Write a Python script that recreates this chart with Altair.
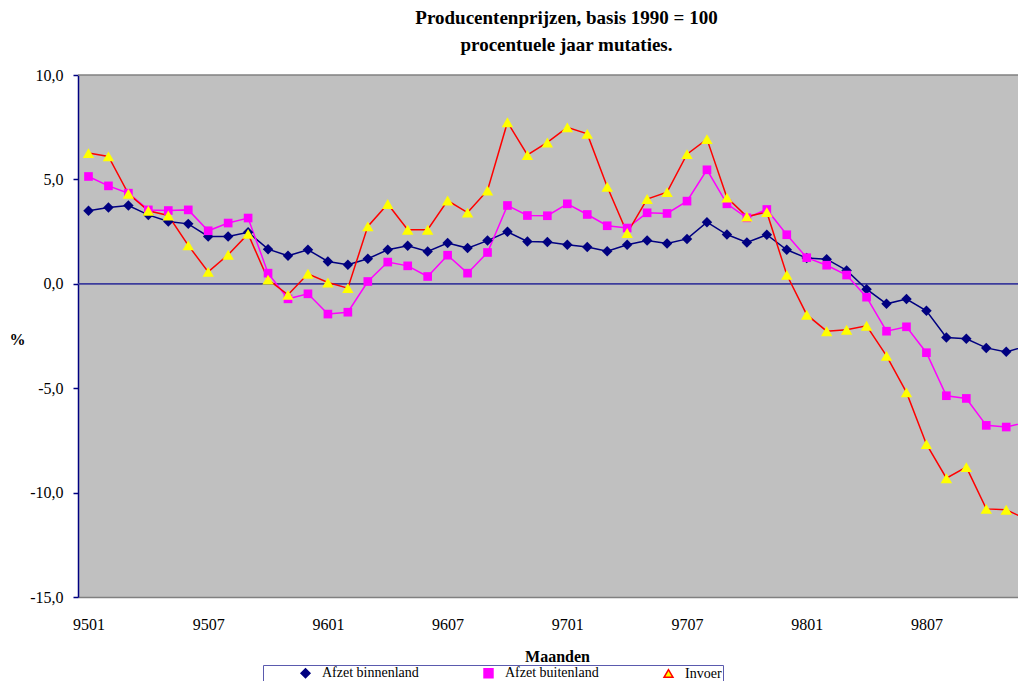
import altair as alt
import pandas as pd

months = ["9501", "9502", "9503", "9504", "9505", "9506", "9507", "9508", "9509", "9510", "9511", "9512",
          "9601", "9602", "9603", "9604", "9605", "9606", "9607", "9608", "9609", "9610", "9611", "9612",
          "9701", "9702", "9703", "9704", "9705", "9706", "9707", "9708", "9709", "9710", "9711", "9712",
          "9801", "9802", "9803", "9804", "9805", "9806", "9807", "9808", "9809", "9810", "9811", "9812"]
tick_labels = ["9501", "9507", "9601", "9607", "9701", "9707", "9801", "9807"]

binnenland = [3.5, 3.65, 3.75, 3.3, 2.98, 2.87, 2.27, 2.27, 2.47, 1.66, 1.34, 1.63,
              1.07, 0.91, 1.2, 1.63, 1.82, 1.55, 1.95, 1.71, 2.07, 2.49, 2.03, 2.0,
              1.87, 1.76, 1.56, 1.87, 2.07, 1.93, 2.15, 2.95, 2.36, 1.98, 2.35, 1.63,
              1.23, 1.18, 0.64, -0.26, -0.96, -0.73, -1.29, -2.57, -2.63, -3.07, -3.26, -2.99]
buitenland = [5.14, 4.69, 4.34, 3.54, 3.51, 3.54, 2.54, 2.91, 3.15, 0.51, -0.72, -0.48,
              -1.45, -1.36, 0.11, 1.04, 0.86, 0.35, 1.37, 0.51, 1.5, 3.75, 3.27, 3.26,
              3.83, 3.32, 2.78, 2.67, 3.4, 3.37, 3.96, 5.46, 3.83, 3.16, 3.56, 2.35,
              1.25, 0.89, 0.42, -0.64, -2.27, -2.06, -3.3, -5.36, -5.49, -6.78, -6.86, -6.64]
invoer = [6.26, 6.1, 4.31, 3.5, 3.27, 1.84, 0.57, 1.39, 2.39, 0.2, -0.53, 0.48,
          0.06, -0.21, 2.75, 3.82, 2.59, 2.59, 3.99, 3.41, 4.47, 7.74, 6.17, 6.77,
          7.49, 7.18, 4.65, 2.43, 4.06, 4.39, 6.21, 6.93, 4.13, 3.22, 3.43, 0.43,
          -1.48, -2.27, -2.2, -2.01, -3.45, -5.2, -7.68, -9.31, -8.78, -10.78, -10.82, -11.27]

series_names = ["Afzet binnenland", "Afzet buitenland", "Invoer"]
line_colors = ["#000080", "#FF00FF", "#FF0000"]
marker_fills = ["#000080", "#FF00FF", "#FFFF00"]
marker_shapes = ["diamond", "square", "triangle-up"]
marker_sizes = [110, 75, 130]

rows = []
for name, vals in zip(series_names, [binnenland, buitenland, invoer]):
    for i, (m, v) in enumerate(zip(months, vals)):
        rows.append({"serie": name, "idx": i, "maand": m, "waarde": v})
df = pd.DataFrame(rows)

tick_idx = [months.index(t) for t in tick_labels]
month_array = "[" + ",".join("'" + m + "'" for m in months) + "]"

FONT = "Liberation Serif"

x_enc = alt.X(
    "idx:Q",
    scale=alt.Scale(domain=[-0.526, 46.59], nice=False, zero=False),
    axis=alt.Axis(
        values=tick_idx,
        labelExpr=month_array + "[datum.value]",
        title="Maanden",
        ticks=False,
        grid=False,
        domainColor="#808080",
        domainWidth=1.5,
        labelFont=FONT,
        labelFontSize=16,
        labelColor="#000000",
        labelPadding=19,
        labelBaseline="top",
        titleFont=FONT,
        titleFontSize=16,
        titleFontWeight="bold",
        titleColor="#000000",
        titleX=479,
        titleY=64,
        titleBaseline="alphabetic",
    ),
)
y_enc = alt.Y(
    "waarde:Q",
    scale=alt.Scale(domain=[-15, 10], nice=False),
    axis=alt.Axis(
        values=[-15, -10, -5, 0, 5, 10],
        labelExpr="(datum.value < 0 ? '-' : '') + replace(format(abs(datum.value), '.1f'), '.', ',')",
        title="%",
        titleAngle=0,
        titleX=-61,
        titleY=264,
        titleAlign="center",
        titleBaseline="middle",
        titleFont=FONT,
        titleFontSize=16,
        titleFontWeight="bold",
        titleColor="#000000",
        grid=False,
        domainColor="#000080",
        domainWidth=1.5,
        tickColor="#000080",
        tickSize=5,
        tickWidth=1.5,
        labelFont=FONT,
        labelFontSize=16,
        labelColor="#000000",
        labelPadding=10,
    ),
)

legend = alt.Legend(
    title=None,
    orient="none",
    legendX=185,
    legendY=590,
    direction="horizontal",
    columns=3,
    fillColor="#FFFFFF",
    strokeColor="#5a5aae",
    padding=1,
    symbolOffset=34.5,
    labelOffset=9.5,
    columnPadding=28,
    symbolSize=80,
    symbolStrokeWidth=1.5,
    labelFont=FONT,
    labelFontSize=14,
    labelColor="#000000",
    labelExpr="datum.label == 'Invoer' ? 'Invoer       ' : datum.label",
)

zero_line = alt.Chart(pd.DataFrame({"waarde": [0]})).mark_rule(
    color="#3c3c9c", strokeWidth=1.7
).encode(y="waarde:Q")

top_border = alt.Chart(pd.DataFrame({"waarde": [10]})).mark_rule(
    color="#808080", strokeWidth=1.5
).encode(y="waarde:Q")

lines = alt.Chart(df).mark_line(strokeWidth=1.5, clip=True).encode(
    x=x_enc,
    y=y_enc,
    color=alt.Color("serie:N", scale=alt.Scale(domain=series_names, range=line_colors), legend=legend),
    order="idx:Q",
)

point_layers = []
for name, sz in zip(series_names, marker_sizes):
    point_layers.append(
        alt.Chart(df)
        .transform_filter(alt.datum.serie == name)
        .mark_point(filled=True, opacity=1, strokeWidth=0, size=sz, clip=True)
        .encode(
            x="idx:Q",
            y="waarde:Q",
            fill=alt.Fill("serie:N", scale=alt.Scale(domain=series_names, range=marker_fills), legend=legend),
            shape=alt.Shape("serie:N", scale=alt.Scale(domain=series_names, range=marker_shapes), legend=legend),
        )
    )

chart = alt.layer(zero_line, top_border, lines, *point_layers).properties(
    width=940,
    height=522,
    title=alt.TitleParams(
        text=["Producentenprijzen, basis 1990 = 100", "procentuele jaar mutaties."],
        font=FONT,
        fontSize=19,
        fontWeight="bold",
        color="#000000",
        anchor="middle",
        dx=18.5,
        offset=12,
        lineHeight=27,
    ),
    autosize=alt.AutoSizeParams(type="none"),
    padding={"left": 70, "top": 67, "right": 0, "bottom": 84},
).configure(font=FONT, background="#FFFFFF").configure_view(fill="#C0C0C0", stroke=None)

chart.save("out.html", embed_options={"renderer": "svg", "actions": False})
